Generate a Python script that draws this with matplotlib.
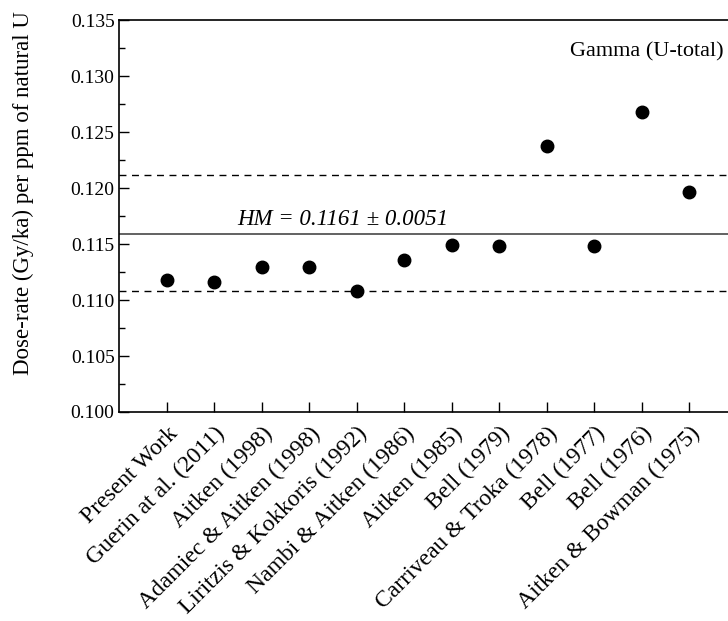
import matplotlib
matplotlib.use('Agg')
import matplotlib.pyplot as plt
from matplotlib.ticker import MultipleLocator, FormatStrFormatter
from matplotlib.transforms import ScaledTranslation

# ── Data ──────────────────────────────────────────────────────────────────────
studies = ['Present Work', 'Guerin at al. (2011)', 'Aitken (1998)',
           'Adamiec & Aitken (1998)', 'Liritzis & Kokkoris (1992)',
           'Nambi & Aitken (1986)', 'Aitken (1985)', 'Bell (1979)',
           'Carriveau & Troka (1978)', 'Bell (1977)', 'Bell (1976)',
           'Aitken & Bowman (1975)']
dose_rate = [0.1118, 0.1116, 0.1130, 0.1130, 0.1108, 0.1136,
             0.1149, 0.1148, 0.1238, 0.1148, 0.1268, 0.1197]

hm_line = 0.1159
hm_low = 0.1108
hm_high = 0.1212
hm_label = 'HM = 0.1161 ± 0.0051'

plt.rcParams.update({
    'font.family': 'Liberation Serif',
    'font.size': 14,
    'xtick.direction': 'in',
    'ytick.direction': 'in',
    'axes.linewidth': 1.2,
})

fig = plt.figure(figsize=(7.28, 6.21), dpi=100)
ax = fig.add_axes([0.1641, 0.3366, 0.8478, 0.6304])

x = list(range(len(studies)))
ax.plot(x, dose_rate, 'o', color='black', ms=9, zorder=3)

ax.axhline(hm_line, color='#555555', lw=1.3)
ax.axhline(hm_low, color='black', lw=1.0, ls=(0, (5, 4)))
ax.axhline(hm_high, color='black', lw=1.0, ls=(0, (5, 4)))

ax.text(1.48, 0.11672, hm_label, style='italic', fontsize=16.5,
        ha='left', va='baseline')
ax.text(0.979, 0.907, 'Gamma (U-total)', fontsize=16,
        ha='right', va='baseline', transform=ax.transAxes)

ax.set_xlim(-1, 12)
ax.set_ylim(0.100, 0.135)
ax.set_xticks(x)
ax.set_xticklabels(studies, rotation=45, ha='right', rotation_mode='anchor',
                   fontsize=17)
# nudge labels slightly right, as in the original
shift = ScaledTranslation(4 / 72, 0, fig.dpi_scale_trans)
for lbl in ax.get_xticklabels():
    lbl.set_transform(lbl.get_transform() + shift)
ax.yaxis.set_major_locator(MultipleLocator(0.005))
ax.yaxis.set_minor_locator(MultipleLocator(0.0025))
ax.yaxis.set_major_formatter(FormatStrFormatter('%.3f'))
ax.tick_params(axis='both', which='major', length=7, width=1.0)
ax.tick_params(axis='y', which='minor', length=4, width=1.0)
ax.tick_params(axis='x', pad=8)

fig.text(23 / 728, 1 - 193 / 621, 'Dose-rate (Gy/ka) per ppm of natural U',
         rotation=90, ha='center', va='center', fontsize=16.5)

fig.savefig('out.png', dpi=100, facecolor='white')
